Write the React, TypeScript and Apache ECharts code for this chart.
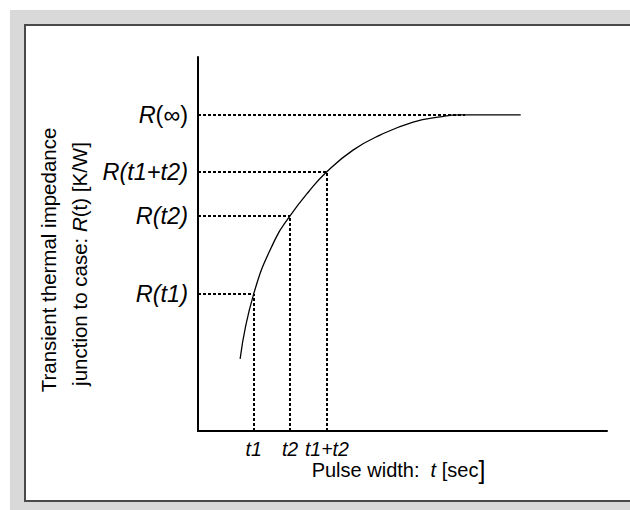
import React, { useEffect, useRef } from "react";
import * as echarts from "echarts";

// Curve (data units: x 0..100, y 0..100)
const curveX = [10.3, 13.6, 18.8, 22.5, 27.0, 31.5, 37.9, 44.5, 52.6, 59.2, 64.1, 70.0, 78.9];
const curveY = [19.3, 36.6, 51.1, 57.5, 63.9, 69.3, 75.1, 79.1, 82.6, 84.0, 84.5, 84.5, 84.5];

// Marked times and their impedances
const tickX = [13.6, 22.5, 31.5];
const tickXLabels = ["t1", "t2", "t1+t2"];
const tickY = [36.6, 57.5, 69.3, 84.5];
const tickYLabels = ["R(t1)", "R(t2)", "R(t1+t2)", "R(∞)"];
const infLineEnd = 65.3;

const FONT = "'Liberation Sans', Arial, sans-serif";

export default function App() {
  const ref = useRef<HTMLDivElement>(null);
  useEffect(() => {
    if (!ref.current) return;
    const chart = echarts.init(ref.current, undefined, { renderer: "svg" });
    const dash = { type: [3, 2] as any, width: 2, color: "#000" };
    const markData: any[] = [];
    tickY.forEach((y, i) => {
      const xEnd = i < tickX.length ? tickX[i] : infLineEnd;
      markData.push([{ coord: [0, y] }, { coord: [xEnd, y] }]);
    });
    tickX.forEach((x, i) => {
      markData.push([{ coord: [x, 0] }, { coord: [x, tickY[i]] }]);
    });
    const nearest = (v: number, vals: number[]) => {
      let best = 0;
      vals.forEach((t, i) => {
        if (Math.abs(t - v) < Math.abs(vals[best] - v)) best = i;
      });
      return best;
    };
    chart.setOption({
      animation: false,
      textStyle: { fontFamily: FONT },
      graphic: [
        { type: "rect", z: -10, shape: { x: 10, y: 10, width: 620, height: 500 }, style: { fill: "#d9d9d9" }, silent: true },
        { type: "rect", z: -9, shape: { x: 25, y: 25, width: 610, height: 476 }, style: { fill: "#fff", stroke: "#4a4a4a", lineWidth: 2 }, silent: true },
        {
          type: "text",
          x: 48,
          y: 260,
          rotation: Math.PI / 2,
          style: {
            text: "Transient thermal impedance",
            font: `20.5px ${FONT}`,
            fill: "#000",
            align: "center",
            verticalAlign: "middle",
          },
        },
        {
          type: "text",
          x: 79,
          y: 264,
          rotation: Math.PI / 2,
          style: {
            text: "junction to case: {i|R}(t) [K/W]",
            font: `20.5px ${FONT}`,
            fill: "#000",
            align: "center",
            verticalAlign: "middle",
            rich: {
              i: { fontStyle: "italic", fontSize: 20.5, fontFamily: FONT, fill: "#000" },
            },
          },
        },
      ],
      grid: { left: 198, right: 23, top: 57, bottom: 79, containLabel: false },
      xAxis: {
        type: "value",
        min: 0,
        max: 100,
        splitLine: { show: false },
        axisTick: { show: false },
        axisLine: { show: true, onZero: false, lineStyle: { color: "#000", width: 2 } },
        axisLabel: {
          show: true,
          customValues: tickX,
          margin: 8,
          color: "#000",
          fontSize: 19.5,
          fontStyle: "italic",
          fontFamily: FONT,
          formatter: (v: number) => tickXLabels[nearest(v, tickX)],
        },
        name: "Pulse width:  {i|t} [sec{b|]}",
        nameLocation: "middle",
        nameGap: 26,
        nameMoveOverlap: false,
        nameTextStyle: {
          color: "#000",
          fontSize: 20,
          fontFamily: FONT,
          padding: [0, 8, 0, 0],
          rich: {
            i: { fontStyle: "italic", fontSize: 20, color: "#000", fontFamily: FONT },
            b: { fontSize: 25, color: "#000", fontFamily: FONT },
          },
        },
      },
      yAxis: {
        type: "value",
        min: 0,
        max: 100,
        splitLine: { show: false },
        axisTick: { show: false },
        axisLine: { show: true, onZero: false, lineStyle: { color: "#000", width: 2 } },
        axisLabel: {
          show: true,
          customValues: tickY,
          margin: 10,
          color: "#000",
          fontFamily: FONT,
          formatter: (v: number) => {
            const s = tickYLabels[nearest(v, tickY)];
            if (s === "R(∞)") return "{i|R}{n|(∞)}";
            return "{i|" + s + "}";
          },
          rich: {
            i: { fontStyle: "italic", fontSize: 23.5, color: "#000", fontFamily: FONT },
            n: { fontSize: 23.5, color: "#000", fontFamily: FONT },
          },
        },
      },
      series: [
        {
          type: "line",
          data: curveX.map((x, i) => [x, curveY[i]]),
          smooth: 0.5,
          showSymbol: false,
          symbol: "none",
          lineStyle: { color: "#000", width: 1.3 },
          markLine: {
            silent: true,
            symbol: "none",
            label: { show: false },
            lineStyle: dash,
            data: markData,
          },
        },
      ],
    });
    return () => chart.dispose();
  }, []);
  return (
    <div
      ref={ref}
      style={{ position: "fixed", left: 0, top: 0, width: 630, height: 510, background: "#fff" }}
    />
  );
}
